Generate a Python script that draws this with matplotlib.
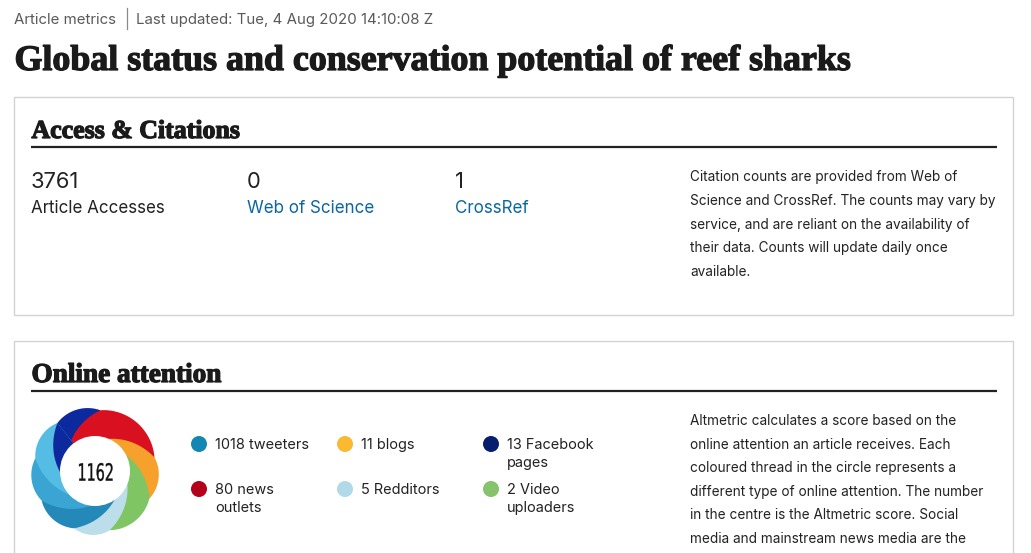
import numpy as np
import matplotlib
matplotlib.use('Agg')
import matplotlib.pyplot as plt
import matplotlib.patheffects as pe
from matplotlib.patches import Rectangle, Circle, Polygon, PathPatch
from matplotlib.textpath import TextPath
from matplotlib.font_manager import FontProperties
from matplotlib.transforms import Affine2D

# page text
header_left = 'Article metrics'
header_right = 'Last updated: Tue, 4 Aug 2020 14:10:08 Z'
title = 'Global status and conservation potential of reef sharks'

# access & citations
metric_values = ['3761', '0', '1']
metric_labels = ['Article Accesses', 'Web of Science', 'CrossRef']
metric_is_link = [False, True, True]
citation_note = ['Citation counts are provided from Web of',
                 'Science and CrossRef. The counts may vary by',
                 'service, and are reliant on the availability of',
                 'their data. Counts will update daily once',
                 'available.']

# online attention
altmetric_score = 1162
attention_counts = [1018, 11, 13, 80, 5, 2]
attention_labels = ['tweeters', 'blogs', 'Facebook\npages',
                    'news\noutlets', 'Redditors', 'Video\nuploaders']
attention_colors = ['#1387b4', '#fbb833', '#071d6e',
                    '#b5001b', '#b1d9e8', '#87c26c']
attention_note = ['Altmetric calculates a score based on the',
                  'online attention an article receives. Each',
                  'coloured thread in the circle represents a',
                  'different type of online attention. The number',
                  'in the centre is the Altmetric score. Social',
                  'media and mainstream news media are the']

# donut threads, clockwise from top-left (degrees of the ring)
thread_spans = [43, 72, 40, 49, 34, 41, 41, 40]
thread_colors = ['#0c2a9e', '#d9101f', '#f5a12c', '#80c564', '#bcdeeb',
                 '#2489b9', '#3aa4d3', '#55bde4']

W, H = 1031, 553
sans = 'Inter'
serif = 'Liberation Serif'
ink = '#222222'
link = '#0b67a1'

def px(size):
    return size * 0.72

fig = plt.figure(figsize=(W / 100, H / 100), dpi=100)
ax = fig.add_axes([0, 0, 1, 1])
ax.set_xlim(0, W)
ax.set_ylim(H, 0)
ax.axis('off')
renderer = fig.canvas.get_renderer()

heavy = [pe.withStroke(linewidth=0.9, foreground='#1a1a1a')]

def fit(txt, width):
    bb = txt.get_window_extent(renderer)
    txt.set_fontsize(txt.get_fontsize() * width / bb.width)

# header
ax.text(14, 24, header_left, fontsize=px(15), family=sans, color='#5a5a5a', va='baseline')
ax.plot([127, 127], [8, 29], color='#8a8a8a', lw=0.9)
ax.text(136, 24, header_right, fontsize=px(15), family=sans, color='#5a5a5a', va='baseline')
t = ax.text(14.5, 70, title, fontsize=px(33), family=serif, weight='bold', color='#1a1a1a',
            va='baseline', path_effects=heavy)
fit(t, 837)

# boxes
ax.add_patch(Rectangle((14, 96.5), 999, 218.5, fill=False, ec='#d3d3d3', lw=1))
ax.add_patch(Rectangle((14, 340.5), 999, 300, fill=False, ec='#d3d3d3', lw=1))

# access & citations
t = ax.text(31.5, 138, 'Access & Citations', fontsize=px(26), family=serif, weight='bold',
            color='#1a1a1a', va='baseline', path_effects=heavy)
fit(t, 208)
ax.plot([31, 997], [147, 147], color=ink, lw=1.6, solid_capstyle='butt')
col_x = [31, 247, 455]
for x, v, lab, is_link in zip(col_x, metric_values, metric_labels, metric_is_link):
    ax.text(x, 188, v, fontsize=px(22), family=sans, color=ink, va='baseline')
    ax.text(x, 213, lab, fontsize=px(17), family=sans, color=link if is_link else ink, va='baseline')
for i, line in enumerate(citation_note):
    ax.text(690, 181 + i * 23.8, line, fontsize=px(13.6), family=sans, color=ink, va='baseline')

# online attention
t = ax.text(31.5, 382, 'Online attention', fontsize=px(26), family=serif, weight='bold',
            color='#1a1a1a', va='baseline', path_effects=heavy)
fit(t, 190)
ax.plot([31, 997], [391, 391], color=ink, lw=1.6, solid_capstyle='butt')
for i, line in enumerate(attention_note):
    ax.text(690, 425 + i * 23.6, line, fontsize=px(13.6), family=sans, color=ink, va='baseline')

# donut: each thread is a wedge whose trailing edge spirals inwards
cx, cy = 95, 471
r_out, r_in, tail = 64, 35, 75
edges = 128 - np.concatenate([[0], np.cumsum(thread_spans)])

def thread(lo, hi, start=None):
    start = lo if start is None else start
    th = np.linspace(start, hi + tail, 90)
    mid, half = (lo + hi) / 2, (hi - lo) / 2
    r = r_out - 3 * ((th - mid) / half) ** 2
    s = np.clip((th - hi) / tail, 0, 1)
    r_tail = r_out - 3 - (r_out - r_in + 1) * (1 - (1 - s) ** 1.6)
    r = np.where(th > hi, r_tail, r)
    xs = cx + r * np.cos(np.radians(th))
    ys = cy - r * np.sin(np.radians(th))
    return np.vstack([[cx, cy], np.column_stack([xs, ys])])

for k, col in enumerate(thread_colors):
    ax.add_patch(Polygon(thread(edges[k + 1], edges[k]), closed=True, color=col, lw=0))
# the first thread's tail lies over the last thread
ax.add_patch(Polygon(thread(edges[1], edges[0], start=edges[0]), closed=True,
                     color=thread_colors[0], lw=0))
ax.add_patch(Circle((cx, cy), r_in, color='white', lw=0))

# condensed score in the centre
tp = TextPath((0, 0), str(altmetric_score), size=25, prop=FontProperties(family='DejaVu Sans'))
v = tp.vertices
sx, sy = 35 / (v[:, 0].max() - v[:, 0].min()), 18 / (v[:, 1].max() - v[:, 1].min())
tr = Affine2D().translate(-(v[:, 0].max() + v[:, 0].min()) / 2, -(v[:, 1].max() + v[:, 1].min()) / 2)
tr = tr.scale(sx, -sy).translate(cx, cy + 1)
ax.add_patch(PathPatch(tr.transform_path(tp), fc='#111111', ec='#111111', lw=0.25))

# legend
leg_x = [199, 345, 491]
leg_y = [444, 489]
for i, (n, lab, col) in enumerate(zip(attention_counts, attention_labels, attention_colors)):
    x = leg_x[i % 3]
    y = leg_y[i // 3]
    ax.add_patch(Circle((x, y), 8, color=col, lw=0))
    for j, part in enumerate(f'{n} {lab}'.split('\n')):
        ax.text(x + 16, y + 5 + j * 18, part, fontsize=px(14.5), family=sans, color=ink,
                va='baseline')

fig.savefig('out.png', dpi=100, facecolor='white')
